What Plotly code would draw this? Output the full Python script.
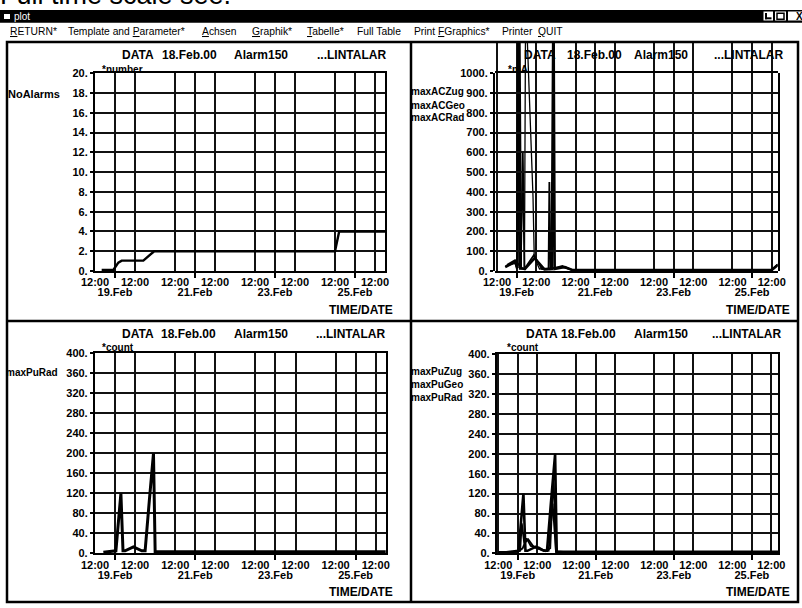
import plotly.graph_objects as go

W, H = 802, 608

# ---------------- data ----------------
NOON_TICKS = ["2000-02-18 12:00", "2000-02-19 12:00", "2000-02-20 12:00", "2000-02-21 12:00",
              "2000-02-22 12:00", "2000-02-23 12:00", "2000-02-24 12:00", "2000-02-25 12:00"]
MIDNIGHT_TICKS = ["2000-02-19 00:00", "2000-02-21 00:00", "2000-02-23 00:00", "2000-02-25 00:00"]
NOON_LABEL = "12:00"
DATE_LABELS = ["19.Feb", "21.Feb", "23.Feb", "25.Feb"]

TITLE_PARTS = ["DATA", "18.Feb.00", "Alarm150", "...LINTALAR"]

# top-left: number of alarms
ALARM_TIME = ["2000-02-18 16:00", "2000-02-18 23:00", "2000-02-19 02:00", "2000-02-19 04:00",
              "2000-02-19 17:00", "2000-02-19 20:00", "2000-02-19 23:30", "2000-02-24 12:00",
              "2000-02-24 12:45", "2000-02-24 14:30", "2000-02-25 18:00"]
NO_ALARMS = [0.1, 0.1, 0.85, 1.05, 1.05, 1.5, 2.0, 2.0, 2.7, 4.0, 4.0]

# top-right: max AC (mA)
AC_ZUG_TIME = ["2000-02-18 17:00", "2000-02-18 23:00", "2000-02-19 00:00", "2000-02-19 00:45",
               "2000-02-19 01:45", "2000-02-19 04:45", "2000-02-19 05:30", "2000-02-19 10:00",
               "2000-02-19 10:45", "2000-02-19 14:00", "2000-02-20 03:00", "2000-02-20 10:00",
               "2000-02-25 12:00", "2000-02-25 15:40"]
AC_ZUG = [25, 40, 10, 1400, 10, 10, 1400, 375, 70, 10, 20, 6, 6, 35]

AC_GEO_TIME = ["2000-02-18 18:00", "2000-02-18 23:00", "2000-02-19 02:30", "2000-02-19 03:45",
               "2000-02-19 04:45", "2000-02-19 10:30", "2000-02-19 15:30", "2000-02-19 19:30",
               "2000-02-19 20:00", "2000-02-19 20:45", "2000-02-20 04:00", "2000-02-20 10:00",
               "2000-02-25 12:00", "2000-02-25 15:40"]
AC_GEO = [30, 55, 20, 600, 10, 80, 10, 10, 450, 10, 25, 5, 5, 30]

AC_RAD_TIME = ["2000-02-18 17:00", "2000-02-18 23:00", "2000-02-19 00:30", "2000-02-19 01:30",
               "2000-02-19 02:30", "2000-02-19 05:00", "2000-02-19 11:00", "2000-02-19 17:00",
               "2000-02-19 21:30", "2000-02-19 22:30", "2000-02-19 23:15", "2000-02-20 05:30",
               "2000-02-20 10:00", "2000-02-25 12:00", "2000-02-25 15:40"]
AC_RAD = [20, 45, 15, 1400, 15, 10, 65, 8, 10, 1400, 10, 20, 5, 5, 30]

# bottom: max Pu (count)
PU_RAD_TIME = ["2000-02-18 17:00", "2000-02-18 23:00", "2000-02-19 00:30", "2000-02-19 03:30",
               "2000-02-19 04:45", "2000-02-19 06:00", "2000-02-19 11:00", "2000-02-19 16:00",
               "2000-02-19 18:00", "2000-02-19 20:30", "2000-02-19 23:00", "2000-02-20 00:00",
               "2000-02-25 18:00"]
PU_RAD = [2, 5, 5, 120, 5, 5, 13, 5, 5, 105, 200, 3, 3]

PU_ZUG_TIME = ["2000-02-18 12:00", "2000-02-18 23:00", "2000-02-19 01:30", "2000-02-19 02:30",
               "2000-02-19 04:00", "2000-02-19 06:30", "2000-02-19 10:00", "2000-02-19 14:00",
               "2000-02-19 19:00", "2000-02-19 21:30", "2000-02-19 23:30", "2000-02-20 04:00",
               "2000-02-25 18:00"]
PU_ZUG = [3, 3, 5, 60, 20, 28, 12, 8, 5, 100, 4, 3, 3]

PU_GEO_TIME = ["2000-02-18 12:00", "2000-02-19 00:00", "2000-02-19 03:00", "2000-02-19 05:30",
               "2000-02-19 08:00", "2000-02-19 13:00", "2000-02-19 17:00", "2000-02-19 20:00",
               "2000-02-19 22:00", "2000-02-19 23:30", "2000-02-20 03:00", "2000-02-25 18:00"]
PU_GEO = [2, 3, 10, 30, 15, 12, 4, 10, 160, 3, 2, 2]

MENU_ITEMS = ["<u>R</u>ETURN*", "Template and <u>P</u>arameter*", "<u>A</u>chsen", "<u>G</u>raphik*",
              "<u>T</u>abelle*", "Full Table", "Print <u>F</u>Graphics*", "Printer", "<u>Q</u>UIT"]

# ---------------- layout helpers ----------------
FONT = "Liberation Sans"
GRID = "#111111"
tickfont = dict(family=FONT, size=11, color="black", weight="bold")

PANELS = {
    1: dict(box=(95, 73.3, 385, 271), xrange=["2000-02-18 12:00", "2000-02-25 18:00"],
            yrange=[0, 20], dtick=2),
    2: dict(box=(495, 73.3, 777.7, 271), xrange=["2000-02-18 10:45", "2000-02-25 15:40"],
            yrange=[0, 1000], dtick=100),
    3: dict(box=(95, 353.3, 386, 553.3), xrange=["2000-02-18 12:00", "2000-02-25 18:10"],
            yrange=[0, 400], dtick=40),
    4: dict(box=(497, 354.3, 778, 553.3), xrange=["2000-02-18 11:15", "2000-02-25 16:05"],
            yrange=[0, 400], dtick=40),
}

fig = go.Figure()
layout = dict(width=W, height=H, margin=dict(l=0, r=0, t=0, b=0, autoexpand=False),
              paper_bgcolor="white", plot_bgcolor="rgba(0,0,0,0)", showlegend=False)

for i, p in PANELS.items():
    x0, y0, x1, y1 = p["box"]
    s = "" if i == 1 else str(i)
    o = str(i + 4)
    layout["xaxis" + s] = dict(
        domain=[x0 / W, x1 / W], anchor="y" + s, type="date", range=p["xrange"],
        tickmode="array", tickvals=NOON_TICKS + MIDNIGHT_TICKS,
        ticktext=[NOON_LABEL] * len(NOON_TICKS) + [""] * len(MIDNIGHT_TICKS),
        ticks="", showgrid=True, gridcolor=GRID, gridwidth=1.8,
        showline=True, mirror=True, linecolor="black", linewidth=2.2,
        tickfont=tickfont, tickangle=0, zeroline=False, fixedrange=True, ticklabelstandoff=0)
    layout["yaxis" + s] = dict(
        domain=[1 - y1 / H, 1 - y0 / H], anchor="x" + s, range=p["yrange"],
        tick0=0, dtick=p["dtick"], tickformat="d", ticksuffix=".",
        ticks="outside", ticklen=3, tickwidth=2, tickcolor="black",
        showgrid=True, gridcolor=GRID, gridwidth=1.8,
        showline=True, mirror=True, linecolor="black", linewidth=2.2,
        zeroline=False, tickfont=tickfont, fixedrange=True, ticklabelstandoff=0)
    layout["xaxis" + o] = dict(
        overlaying="x" + s, anchor="y" + s, type="date", range=p["xrange"],
        tickmode="array", tickvals=MIDNIGHT_TICKS, ticktext=DATE_LABELS,
        ticks="outside", ticklen=6, tickwidth=2, tickcolor="black",
        showgrid=False, showline=False, zeroline=False, tickfont=tickfont,
        tickangle=0, fixedrange=True, ticklabelstandoff=5)
    fig.add_trace(go.Scatter(x=[], y=[], xaxis="x" + o, yaxis="y" + s, hoverinfo="skip"))

# top-right data axis that extends up to the panel border (spikes overshoot 1000)
tr_top, tr_bot, tr_panel_top = 73.3, 271, 42
layout["yaxis9"] = dict(domain=[1 - tr_bot / H, 1 - tr_panel_top / H], anchor="x2",
                        range=[0, 1000 * (tr_bot - tr_panel_top) / (tr_bot - tr_top)],
                        visible=False, fixedrange=True)


def line(xs, ys, xa, ya, w):
    fig.add_trace(go.Scatter(x=xs, y=ys, mode="lines", xaxis=xa, yaxis=ya,
                             line=dict(color="black", width=w), hoverinfo="skip"))


line(ALARM_TIME, NO_ALARMS, "x", "y", 2.4)
line(AC_GEO_TIME, AC_GEO, "x2", "y9", 1.8)
line(AC_ZUG_TIME, AC_ZUG, "x2", "y9", 1.3)
line(AC_RAD_TIME, AC_RAD, "x2", "y9", 2.6)
line(PU_RAD_TIME, PU_RAD, "x3", "y3", 3)
line(PU_GEO_TIME, PU_GEO, "x4", "y4", 1.8)
line(PU_ZUG_TIME, PU_ZUG, "x4", "y4", 1.8)
line(PU_RAD_TIME, PU_RAD, "x4", "y4", 2.6)

# ---------------- annotations ----------------
ann = []


def txt(x, y, s, size=11, bold=True, color="black", anchor="left", family=FONT):
    ann.append(dict(x=x / W, y=1 - y / H, xref="paper", yref="paper", showarrow=False,
                    text=("<b>%s</b>" % s) if bold else s, xanchor=anchor, yanchor="middle",
                    font=dict(family=family, size=size, color=color), borderpad=0))


txt(-1, -5, "Full time scale see.", size=27, bold=False)
txt(13, 16.3, "plot", size=10, bold=False, color="white")
menu_x = [9, 67, 201, 251, 306, 356, 413, 501, 537]
for mx, item in zip(menu_x, MENU_ITEMS):
    txt(mx, 31.5, item, size=10.3, bold=False)

title_pos = {1: ([121, 161, 233, 316], 55), 2: ([523, 566, 633, 713], 55),
             3: ([121, 160, 233, 315], 333.5), 4: ([525, 560, 633, 711], 333.5)}
for i, (xs, ty) in title_pos.items():
    for tx, part in zip(xs, TITLE_PARTS):
        txt(tx, ty, part, size=12)

txt(101, 69, "*number", size=10)
txt(507, 69, "*mA", size=10)
txt(101, 347, "*count", size=10)
txt(506, 347, "*count", size=10)

txt(7, 94, "NoAlarms", size=11)
for k, name in enumerate(["maxACZug", "maxACGeo", "maxACRad"]):
    txt(410, 92 + 13 * k, name, size=10)
txt(5, 372, "maxPuRad", size=10)
for k, name in enumerate(["maxPuZug", "maxPuGeo", "maxPuRad"]):
    txt(410, 371 + 13 * k, name, size=10)

for tx, ty in [(328, 310), (725, 310), (328, 592), (725, 592)]:
    txt(tx, ty, "TIME/DATE", size=12)

# ---------------- shapes (window chrome / panel frames) ----------------
shapes = []


def rect(x0, y0, x1, y1, fill="rgba(0,0,0,0)", lc="rgba(0,0,0,0)", lw=0):
    shapes.append(dict(type="rect", xref="paper", yref="paper", x0=x0 / W, x1=x1 / W,
                       y0=1 - y1 / H, y1=1 - y0 / H, fillcolor=fill,
                       line=dict(color=lc, width=lw), layer="above"))


def seg(x0, y0, x1, y1, lw=2.5):
    shapes.append(dict(type="line", xref="paper", yref="paper", x0=x0 / W, x1=x1 / W,
                       y0=1 - y0 / H, y1=1 - y1 / H, line=dict(color="black", width=lw),
                       layer="above"))


rect(0, 10, W, 22.7, fill="black")
rect(4, 14, 10, 19, fill="white")
rect(763.5, 11.5, 773, 20.5, fill="white")
rect(765, 17.3, 771.5, 19.3, fill="black")
rect(765, 13, 767, 19.3, fill="black")
rect(775, 11.5, 786, 20.5, fill="white")
rect(777, 13.2, 784, 19.2, lc="black", lw=1.5)
rect(788, 11.5, 802, 20.5, fill="white")
txt(795, 16.2, "X", size=10, color="black")

rect(7, 42, 798, 602, lc="black", lw=2.5)
seg(411, 42, 411, 602)
seg(7, 321, 798, 321)

layout["annotations"] = ann
layout["shapes"] = shapes
fig.update_layout(**layout)
fig.write_html(
    "out.html",
    config={"responsive": False, "displayModeBar": False},
    post_script="document.body.style.margin='0';document.body.style.padding='0';"
                "document.body.style.overflow='hidden';",
)
